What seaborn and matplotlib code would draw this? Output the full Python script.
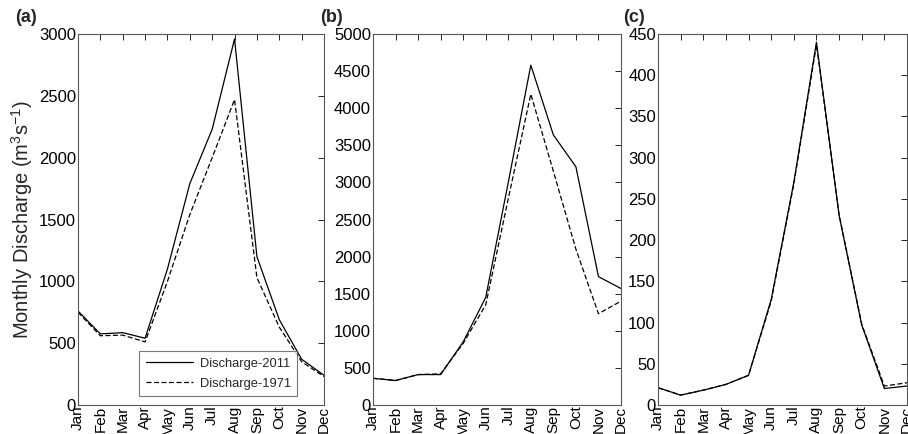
import numpy as np
import pandas as pd
import matplotlib
matplotlib.use("Agg")
import matplotlib.pyplot as plt
import seaborn as sb

months = ['Jan', 'Feb', 'Mar', 'Apr', 'May', 'Jun', 'Jul', 'Aug', 'Sep', 'Oct', 'Nov', 'Dec']
series = ['Discharge-2011', 'Discharge-1971']

# panel (a)
a_2011 = [760, 575, 585, 540, 1100, 1790, 2230, 2960, 1200, 690, 370, 240]
a_1971 = [750, 560, 565, 510, 1000, 1540, 2000, 2470, 1030, 630, 350, 230]
# panel (b)
b_2011 = [360, 330, 410, 410, 850, 1450, 3000, 4580, 3640, 3210, 1730, 1570]
b_1971 = [360, 330, 410, 420, 830, 1350, 2780, 4190, 3150, 2100, 1230, 1400]
# panel (c)
c_2011 = [21, 12, 18, 25, 36, 128, 270, 440, 230, 97, 20, 23]
c_1971 = [21, 12, 18, 25, 36, 126, 268, 437, 231, 98, 23, 27]

panels = [
    ('(a)', a_2011, a_1971, 3000, 500),
    ('(b)', b_2011, b_1971, 5000, 500),
    ('(c)', c_2011, c_1971, 450, 50),
]

sb.set_style('white')
plt.rcParams['font.family'] = ['Liberation Sans', 'DejaVu Sans']
plt.rcParams['mathtext.fontset'] = 'custom'
plt.rcParams['mathtext.rm'] = 'Liberation Sans'

W, H = 908, 434
fig = plt.figure(figsize=(W / 100, H / 100), dpi=100)

# axes boxes in pixels: left, right, and where the panel letter sits
boxes = [(78, 324, 15), (373, 621, 320), (658, 907, 623)]
top_px, bot_px = 34, 405

for i, (lab, s11, s71, ymax, ystep) in enumerate(panels):
    l, r, lx = boxes[i]
    ax = fig.add_axes([l / W, (H - bot_px) / H, (r - l) / W, (bot_px - top_px) / H])

    df = pd.DataFrame({
        'month': list(range(12)) * 2,
        'value': s11 + s71,
        'series': [series[0]] * 12 + [series[1]] * 12,
    })
    sb.lineplot(data=df, x='month', y='value', style='series',
                style_order=series, dashes={series[0]: '', series[1]: (4, 2)},
                color='black', linewidth=0.9, ax=ax, legend=(i == 0))

    ax.set_xlim(0, 11)
    ax.set_ylim(0, ymax)
    ax.set_xticks(range(12))
    ax.set_xticklabels(months, rotation=90)
    ax.set_yticks(np.arange(0, ymax + 1, ystep))
    ax.tick_params(direction='in', top=True, right=True, length=4, width=0.6,
                   labelsize=12, pad=1.5, colors='black')
    ax.tick_params(axis='x', labelsize=11, pad=0.5)
    for sp in ax.spines.values():
        sp.set_color('#555555')
        sp.set_linewidth(0.8)
    ax.set_xlabel('')
    ax.set_ylabel('')

    fig.text(lx / W, (H - 17) / H, lab,
             fontsize=13, fontweight='bold', va='center', ha='left')

    if i == 0:
        ax.set_ylabel('Monthly Discharge (m$^3$s$^{-1}$)', fontsize=14.5, labelpad=3)
        leg = ax.legend(loc='lower right', bbox_to_anchor=(0.892, 0.024),
                        frameon=True, fancybox=False, fontsize=9.3,
                        handlelength=3.7, handletextpad=0.5, borderpad=0.5,
                        labelspacing=0.6, borderaxespad=0)
        leg.get_frame().set_edgecolor('#555555')
        leg.get_frame().set_linewidth(0.8)
        leg.set_title(None)

fig.savefig('out.png', dpi=100)
